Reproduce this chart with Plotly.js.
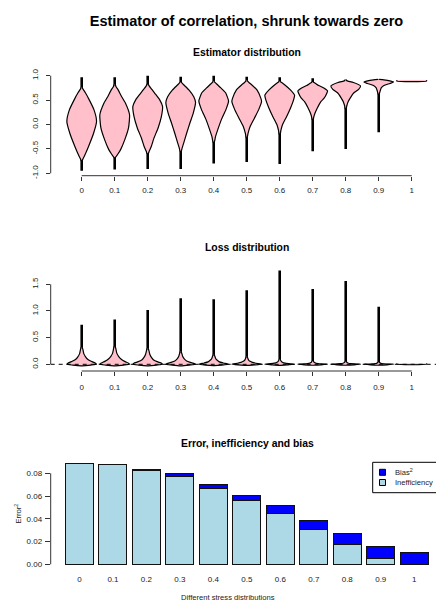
<!DOCTYPE html>
<html>
<head>
<meta charset="utf-8">
<script src="https://cdn.plot.ly/plotly-3.0.1.min.js"></script>
<style>html,body{margin:0;padding:0;background:#fff;}#chart{width:436px;height:601px;}</style>
</head>
<body>
<div id="chart"></div>
<script>
// ---------- data ----------
const labels = ["0", "0.1", "0.2", "0.3", "0.4", "0.5", "0.6", "0.7", "0.8", "0.9", "1"];

// Estimator distribution: range of each sample and density profile of its body
const estMax = [0.97, 0.97, 1.00, 0.98, 1.00, 0.98, 0.97, 0.95, 0.92, 0.93, 0.90];
const estMin = [-0.95, -0.92, -0.91, -0.91, -0.80, -0.77, -0.81, -0.55, -0.50, -0.16, 0.90];
const estLevels = [
  [0.76, 0.72, 0.65, 0.51, 0.30, 0.06, -0.18, -0.45, -0.62, -0.70, -0.74],
  [0.82, 0.77, 0.70, 0.58, 0.44, 0.20, -0.07, -0.31, -0.52, -0.62, -0.68],
  [0.83, 0.78, 0.72, 0.64, 0.51, 0.37, 0.16, -0.07, -0.28, -0.45, -0.55, -0.60],
  [0.87, 0.82, 0.71, 0.57, 0.45, 0.24, 0.03, -0.18, -0.38, -0.48, -0.55],
  [0.88, 0.83, 0.75, 0.65, 0.48, 0.31, 0.11, -0.10, -0.25, -0.33, -0.37],
  [0.90, 0.86, 0.81, 0.71, 0.54, 0.47, 0.30, 0.13, -0.04, -0.18, -0.27],
  [0.88, 0.85, 0.81, 0.71, 0.60, 0.50, 0.34, 0.16, -0.01, -0.12, -0.20],
  [0.87, 0.84, 0.80, 0.75, 0.69, 0.64, 0.54, 0.47, 0.34, 0.23, 0.15, 0.10],
  [0.905, 0.89, 0.86, 0.79, 0.72, 0.64, 0.54, 0.47, 0.38, 0.32],
  [0.925, 0.915, 0.895, 0.87, 0.84, 0.80, 0.75, 0.68, 0.62],
  [0.91, 0.89]
];
const estWidths = [
  [0.03, 0.10, 0.25, 0.50, 0.83, 1.00, 0.80, 0.46, 0.22, 0.09, 0.03],
  [0.03, 0.10, 0.25, 0.45, 0.72, 1.00, 0.93, 0.68, 0.39, 0.18, 0.03],
  [0.03, 0.12, 0.28, 0.48, 0.80, 1.00, 0.92, 0.70, 0.42, 0.24, 0.10, 0.03],
  [0.03, 0.18, 0.55, 0.88, 1.00, 0.85, 0.62, 0.40, 0.20, 0.10, 0.03],
  [0.03, 0.20, 0.48, 0.80, 1.00, 0.83, 0.53, 0.28, 0.12, 0.07, 0.03],
  [0.03, 0.15, 0.35, 0.69, 0.95, 1.00, 0.80, 0.52, 0.23, 0.09, 0.03],
  [0.03, 0.18, 0.35, 0.72, 1.00, 0.93, 0.73, 0.46, 0.18, 0.08, 0.03],
  [0.03, 0.20, 0.40, 0.75, 1.00, 0.95, 0.77, 0.55, 0.31, 0.15, 0.07, 0.03],
  [0.03, 0.15, 0.52, 1.00, 0.87, 0.52, 0.30, 0.17, 0.07, 0.03],
  [0.03, 0.35, 0.75, 1.00, 0.75, 0.35, 0.17, 0.09, 0.03],
  [1.00, 1.00]
];

// Loss distribution: range of each sample and density profile of its body
const lossMax = [0.74, 0.84, 1.02, 1.24, 1.22, 1.39, 1.76, 1.41, 1.56, 1.08, 0.01];
const lossMin = [0.00, 0.00, 0.00, 0.00, 0.00, 0.00, 0.00, 0.00, 0.00, 0.00, 0.01];
const lossLevels = [
  [0.32, 0.28, 0.20, 0.14, 0.09, 0.05, 0.02, 0.00, -0.015, -0.03],
  [0.34, 0.29, 0.21, 0.15, 0.10, 0.05, 0.02, 0.00, -0.015, -0.03],
  [0.30, 0.26, 0.19, 0.13, 0.08, 0.045, 0.02, 0.00, -0.015, -0.03],
  [0.24, 0.20, 0.15, 0.10, 0.06, 0.035, 0.015, 0.00, -0.015, -0.03],
  [0.18, 0.15, 0.11, 0.075, 0.045, 0.025, 0.01, 0.00, -0.015, -0.025],
  [0.14, 0.11, 0.08, 0.055, 0.035, 0.02, 0.008, 0.00, -0.012, -0.022],
  [0.09, 0.07, 0.05, 0.035, 0.022, 0.012, 0.005, 0.00, -0.01, -0.02],
  [0.06, 0.045, 0.033, 0.023, 0.015, 0.008, 0.003, 0.00, -0.01, -0.018],
  [0.05, 0.038, 0.028, 0.019, 0.012, 0.007, 0.003, 0.00, -0.01, -0.018],
  [0.04, 0.03, 0.022, 0.015, 0.01, 0.006, 0.002, 0.00, -0.01, -0.018],
  [0.018, 0.002]
];
const lossWidths = [
  [0.03, 0.08, 0.14, 0.26, 0.42, 0.70, 0.93, 1.00, 0.60, 0.03],
  [0.03, 0.08, 0.14, 0.26, 0.42, 0.70, 0.93, 1.00, 0.60, 0.03],
  [0.03, 0.08, 0.14, 0.25, 0.40, 0.68, 0.93, 1.00, 0.60, 0.03],
  [0.03, 0.08, 0.13, 0.24, 0.40, 0.66, 0.92, 1.00, 0.58, 0.03],
  [0.03, 0.08, 0.13, 0.24, 0.38, 0.64, 0.90, 1.00, 0.55, 0.03],
  [0.03, 0.08, 0.13, 0.23, 0.38, 0.62, 0.90, 1.00, 0.55, 0.03],
  [0.03, 0.08, 0.12, 0.21, 0.35, 0.60, 0.90, 1.00, 0.55, 0.03],
  [0.03, 0.08, 0.12, 0.21, 0.35, 0.60, 0.90, 1.00, 0.55, 0.03],
  [0.03, 0.08, 0.12, 0.20, 0.34, 0.60, 0.90, 1.00, 0.55, 0.03],
  [0.03, 0.08, 0.12, 0.20, 0.34, 0.60, 0.90, 1.00, 0.55, 0.03],
  [1.00, 1.00]
];

// Error decomposition
const inefficiency = [0.0890, 0.0879, 0.0826, 0.0774, 0.0664, 0.0557, 0.0443, 0.0304, 0.0174, 0.0055, 0.0000];
const biasSq      = [0.0000, 0.0002, 0.0009, 0.0023, 0.0040, 0.0052, 0.0073, 0.0084, 0.0096, 0.0101, 0.0101];

// tick labels
const estTickVals = [-1, -0.5, 0, 0.5, 1];
const estTickText = ["-1.0", "-0.5", "0.0", "0.5", "1.0"];
const lossTickVals = [0, 0.5, 1, 1.5];
const lossTickText = ["0.0", "0.5", "1.0", "1.5"];
const errTickVals = [0, 0.02, 0.04, 0.06, 0.08];
const errTickText = ["0.00", "0.02", "0.04", "0.06", "0.08"];

// ---------- drawing ----------
const W = 436, H = 601;
const fx = p => p / W;
const fy = p => 1 - p / H;
const fam = 'Liberation Sans, Arial, Helvetica, sans-serif';
const pos = labels.map((_, i) => i);
const halfMax = 0.45;

function tail(lo, hi, i, xa, ya) {
  return {type: 'scatter', mode: 'lines', x: [i, i], y: [lo, hi], xaxis: xa, yaxis: ya,
    line: {color: '#000', width: 2.6}, hoverinfo: 'skip', showlegend: false};
}
function body(levels, widths, i, xa, ya) {
  const xs = [], ys = [];
  for (let k = 0; k < levels.length; k++) { xs.push(i + widths[k] * halfMax); ys.push(levels[k]); }
  for (let k = levels.length - 1; k >= 0; k--) { xs.push(i - widths[k] * halfMax); ys.push(levels[k]); }
  return {
    type: 'scatter', mode: 'lines', x: xs, y: ys, xaxis: xa, yaxis: ya,
    fill: 'toself', fillcolor: '#FFC0CB',
    line: {color: '#000', width: 1.2, shape: 'spline', smoothing: 0.5},
    hoverinfo: 'skip', showlegend: false
  };
}

const traces = [];
pos.forEach(i => traces.push(tail(estMin[i], estMax[i], i, 'x', 'y')));
estLevels.forEach((lv, i) => traces.push(body(lv, estWidths[i], pos[i], 'x', 'y')));
pos.forEach(i => traces.push(tail(lossMin[i], lossMax[i], i, 'x2', 'y2')));
lossLevels.forEach((lv, i) => traces.push(body(lv, lossWidths[i], pos[i], 'x2', 'y2')));
traces.push({type: 'bar', x: pos, y: inefficiency, name: 'Inefficiency', xaxis: 'x3', yaxis: 'y3',
  marker: {color: '#ADD8E6', line: {color: '#111', width: 1}}, showlegend: false, hoverinfo: 'skip'});
traces.push({type: 'bar', x: pos, y: biasSq, name: 'Bias²', xaxis: 'x3', yaxis: 'y3',
  marker: {color: '#0000FF', line: {color: '#111', width: 1}}, showlegend: false, hoverinfo: 'skip'});

const axBase = {
  showgrid: false, zeroline: false, showline: false, ticks: 'outside', ticklen: 4,
  tickwidth: 1, tickcolor: '#333', tickfont: {family: fam, size: 8, color: '#222'},
  fixedrange: true, tickmode: 'array'
};

const axisLine = {color: '#333', width: 1};
const shapes = [
  {type: 'line', xref: 'x domain', yref: 'y', x0: 0, x1: 0, y0: -1, y1: 1, line: axisLine},
  {type: 'line', xref: 'x', yref: 'y domain', x0: pos[0], x1: pos[10], y0: 0, y1: 0, line: axisLine},
  {type: 'line', xref: 'x2 domain', yref: 'y2', x0: 0, x1: 0, y0: 0, y1: 1.5, line: axisLine},
  {type: 'line', xref: 'x2', yref: 'y2 domain', x0: pos[0], x1: pos[10], y0: 0, y1: 0, line: axisLine},
  {type: 'line', xref: 'x2 domain', yref: 'y2', x0: 0, x1: 1, y0: 0, y1: 0, line: {color: '#000', width: 1, dash: '4px,4px'}},
  {type: 'line', xref: 'x3 domain', yref: 'y3', x0: 0, x1: 0, y0: 0, y1: 0.08, line: axisLine},
  {type: 'rect', xref: 'paper', yref: 'paper', x0: fx(372.7), x1: fx(445), y0: fy(492.7), y1: fy(462.3),
   line: {color: '#000', width: 1}, fillcolor: '#fff'},
  {type: 'rect', xref: 'paper', yref: 'paper', x0: fx(379.5), x1: fx(385.5), y0: fy(475.3), y1: fy(469.3),
   line: {color: '#000', width: 1}, fillcolor: '#0000FF'},
  {type: 'rect', xref: 'paper', yref: 'paper', x0: fx(379.5), x1: fx(385.5), y0: fy(485.5), y1: fy(479.5),
   line: {color: '#000', width: 1}, fillcolor: '#ADD8E6'}
];

const titleFont = {family: fam, size: 10.4, color: '#000'};
const smallFont = {family: fam, size: 7.6, color: '#222'};
const annotations = [
  {text: '<b>Estimator distribution</b>', xref: 'paper', yref: 'paper', x: fx(247), y: fy(52.3), xanchor: 'center', yanchor: 'middle', showarrow: false, font: titleFont},
  {text: '<b>Loss distribution</b>', xref: 'paper', yref: 'paper', x: fx(247), y: fy(247.3), xanchor: 'center', yanchor: 'middle', showarrow: false, font: titleFont},
  {text: '<b>Error, inefficiency and bias</b>', xref: 'paper', yref: 'paper', x: fx(247), y: fy(443.3), xanchor: 'center', yanchor: 'middle', showarrow: false, font: titleFont},
  {text: 'Different stress distributions', xref: 'paper', yref: 'paper', x: fx(228), y: fy(597), xanchor: 'center', yanchor: 'middle', showarrow: false, font: smallFont},
  {text: 'Bias<sup>2</sup>', xref: 'paper', yref: 'paper', x: fx(392.5), y: fy(472.3), xanchor: 'left', yanchor: 'middle', showarrow: false, font: smallFont},
  {text: 'Inefficiency', xref: 'paper', yref: 'paper', x: fx(392.5), y: fy(482.5), xanchor: 'left', yanchor: 'middle', showarrow: false, font: smallFont}
];

const layout = {
  width: W, height: H,
  margin: {l: 0, r: 0, t: 0, b: 0, autoexpand: false},
  paper_bgcolor: '#fff', plot_bgcolor: 'rgba(0,0,0,0)',
  showlegend: false,
  barmode: 'stack', bargap: 0.164,
  title: {text: '<b>Estimator of correlation, shrunk towards zero</b>', font: {family: fam, size: 14.5, color: '#000'},
          x: fx(246.5), xanchor: 'center', y: fy(21), yanchor: 'middle'},
  xaxis: Object.assign({}, axBase, {domain: [fx(50.7), 1], range: [-0.9394, 10.736], anchor: 'y', tickvals: pos, ticktext: labels, ticklabelstandoff: 3}),
  yaxis: Object.assign({}, axBase, {domain: [fy(175.7), fy(72.1)], range: [-1.049, 1.074], anchor: 'x', tickvals: estTickVals, ticktext: estTickText, tickangle: -90, ticklabelstandoff: 5}),
  xaxis2: Object.assign({}, axBase, {domain: [fx(50.7), 1], range: [-0.9394, 10.736], anchor: 'y2', tickvals: pos, ticktext: labels, ticklabelstandoff: 4}),
  yaxis2: Object.assign({}, axBase, {domain: [fy(371), fy(266)], range: [-0.1256, 1.843], anchor: 'x2', tickvals: lossTickVals, ticktext: lossTickText, tickangle: -90, ticklabelstandoff: 5}),
  xaxis3: Object.assign({}, axBase, {domain: [fx(50.7), 1], range: [-0.8597, 10.651], anchor: 'y3', tickvals: pos, ticktext: labels, tickcolor: 'rgba(0,0,0,0)', ticklen: 3}),
  yaxis3: Object.assign({}, axBase, {domain: [fy(568.3), fy(459)], range: [-0.003516, 0.09257], anchor: 'x3', tickvals: errTickVals, ticktext: errTickText, ticklen: 5, ticklabelstandoff: 1,
          title: {text: 'Error<sup>2</sup>', font: smallFont, standoff: 3}}),
  shapes: shapes,
  annotations: annotations
};

Plotly.newPlot('chart', traces, layout, {staticPlot: true, displayModeBar: false});
</script>
</body>
</html>
